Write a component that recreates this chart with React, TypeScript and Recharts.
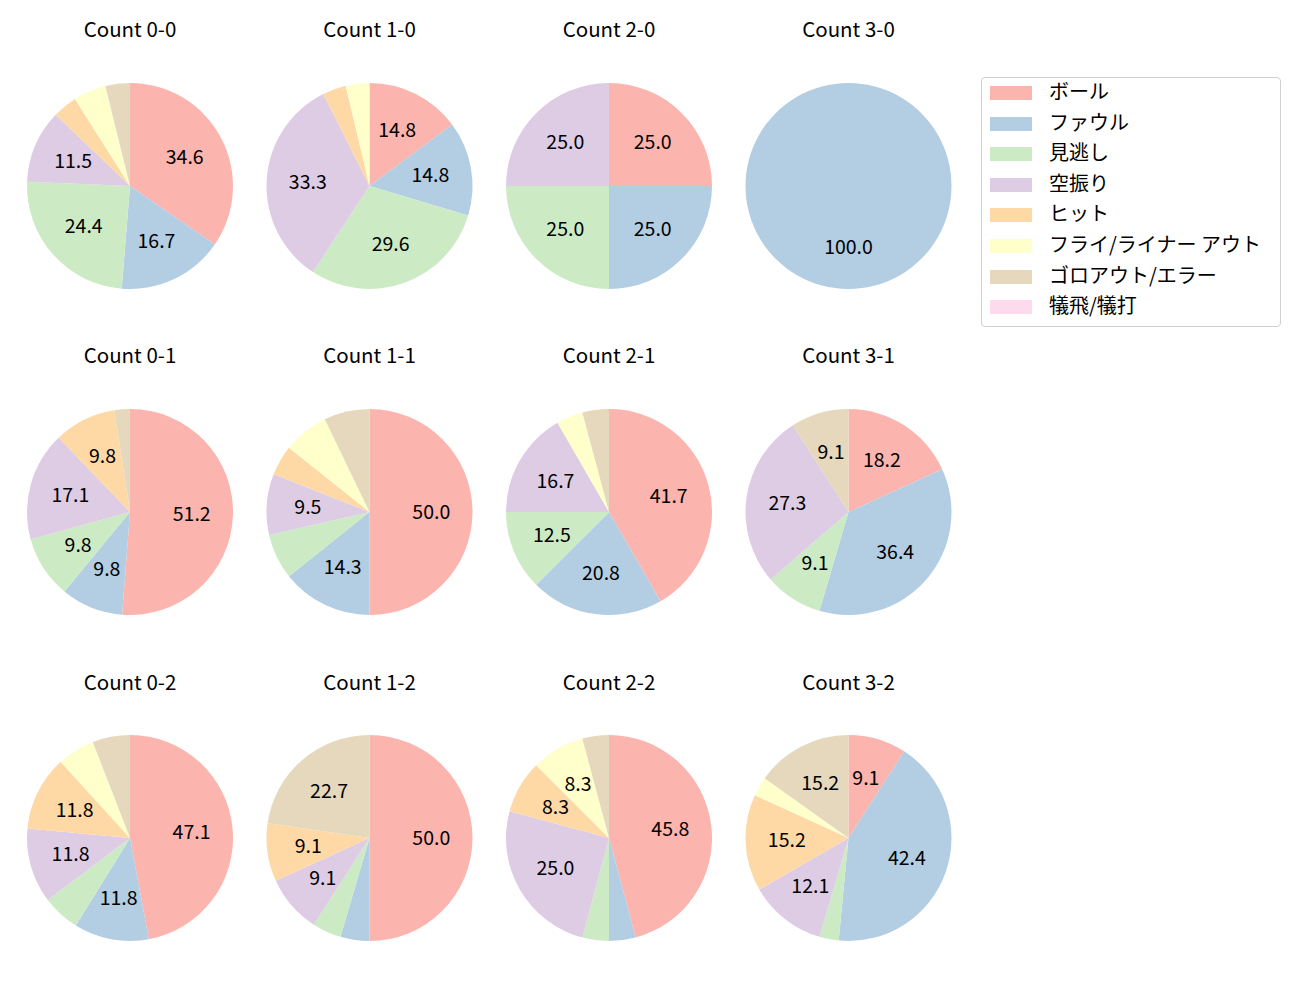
import { PieChart, Pie, Cell } from 'recharts';

const CATEGORIES = ['ボール', 'ファウル', '見逃し', '空振り', 'ヒット', 'フライ/ライナー アウト', 'ゴロアウト/エラー', '犠飛/犠打'];
const COLORS = ['#fbb4ae', '#b3cde3', '#ccebc5', '#decbe4', '#fed9a6', '#ffffcc', '#e5d8bd', '#fddaec'];

const TITLES = [
  'Count 0-0', 'Count 1-0', 'Count 2-0', 'Count 3-0',
  'Count 0-1', 'Count 1-1', 'Count 2-1', 'Count 3-1',
  'Count 0-2', 'Count 1-2', 'Count 2-2', 'Count 3-2',
];

// pitch counts per category, same order as CATEGORIES
const count00 = [27, 13, 19, 9, 3, 4, 3, 0];
const count10 = [4, 4, 8, 9, 1, 1, 0, 0];
const count20 = [1, 1, 1, 1, 0, 0, 0, 0];
const count30 = [0, 1, 0, 0, 0, 0, 0, 0];
const count01 = [21, 4, 4, 7, 4, 0, 1, 0];
const count11 = [21, 6, 3, 4, 2, 3, 3, 0];
const count21 = [10, 5, 3, 4, 0, 1, 1, 0];
const count31 = [2, 4, 1, 3, 0, 0, 1, 0];
const count02 = [8, 2, 1, 2, 2, 1, 1, 0];
const count12 = [11, 1, 1, 2, 2, 0, 5, 0];
const count22 = [11, 1, 1, 6, 2, 2, 1, 0];
const count32 = [3, 14, 1, 4, 5, 1, 5, 0];

const SERIES = [
  count00, count10, count20, count30,
  count01, count11, count21, count31,
  count02, count12, count22, count32,
];

const COL_X = [130, 369.5, 609, 848.5];
const ROW_Y = [186, 512, 838];
const TITLE_Y = [29, 355, 682];
const RADIUS = 103;
const FONT = '"Noto Sans CJK JP", "Noto Sans", sans-serif';
const RAD = Math.PI / 180;

const renderLabel = (props: any) => {
  const { cx, cy, midAngle, outerRadius, percent } = props;
  const p = percent * 100;
  if (p < 8) return null;
  const r = outerRadius * 0.6;
  const x = cx + r * Math.cos(-midAngle * RAD);
  const y = cy + r * Math.sin(-midAngle * RAD) - 2;
  return (
    <text x={x} y={y} textAnchor="middle" dominantBaseline="central" fill="#000" fontSize={19.5} fontFamily={FONT}>
      {p.toFixed(1)}
    </text>
  );
};

const App = () => {
  return (
    <div style={{ position: 'absolute', left: 0, top: 0, width: 1300, height: 1000, background: '#fff', fontFamily: FONT }}>
      <PieChart width={1300} height={1000} margin={{ top: 0, right: 0, bottom: 0, left: 0 }}>
        {SERIES.map((values, i) => {
          const data = values
            .map((v, k) => ({ name: CATEGORIES[k], value: v, color: COLORS[k] }))
            .filter((d) => d.value > 0);
          return (
            <Pie
              key={TITLES[i]}
              data={data}
              dataKey="value"
              cx={COL_X[i % 4]}
              cy={ROW_Y[Math.floor(i / 4)]}
              outerRadius={RADIUS}
              startAngle={90}
              endAngle={-270}
              stroke="none"
              labelLine={false}
              label={renderLabel}
              isAnimationActive={false}
            >
              {data.map((d) => (
                <Cell key={d.name} fill={d.color} />
              ))}
            </Pie>
          );
        })}
      </PieChart>

      {TITLES.map((t, i) => (
        <div
          key={t}
          style={{
            position: 'absolute',
            left: COL_X[i % 4] - 100,
            width: 200,
            top: TITLE_Y[Math.floor(i / 4)] - 16,
            lineHeight: '30px',
            textAlign: 'center',
            fontSize: 20.5,
            color: '#000',
          }}
        >
          {t}
        </div>
      ))}

      <div
        style={{
          position: 'absolute',
          left: 981,
          top: 77,
          width: 298,
          height: 248,
          border: '1px solid #d0d0d0',
          borderRadius: 4,
        }}
      >
        {CATEGORIES.map((c, k) => (
          <div key={c} style={{ position: 'absolute', left: 0, top: k * 30.6, height: 30, width: 298 }}>
            <div style={{ position: 'absolute', left: 8, top: 8, width: 42, height: 14, background: COLORS[k] }} />
            <div style={{ position: 'absolute', left: 67, top: -2, lineHeight: '30px', fontSize: 20, color: '#000', whiteSpace: 'nowrap' }}>
              {c}
            </div>
          </div>
        ))}
      </div>
    </div>
  );
};

export default App;
